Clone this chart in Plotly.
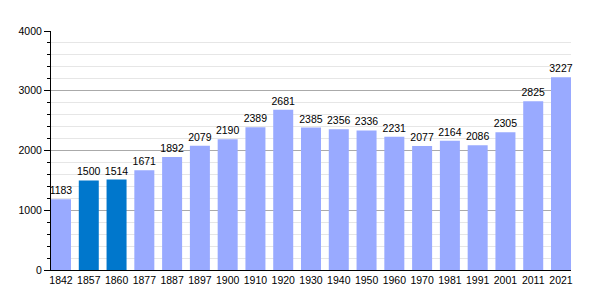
import plotly.graph_objects as go

years = ["1842", "1857", "1860", "1877", "1887", "1897", "1900", "1910", "1920", "1930",
         "1940", "1950", "1960", "1970", "1981", "1991", "2001", "2011", "2021"]
population = [1183, 1500, 1514, 1671, 1892, 2079, 2190, 2389, 2681, 2385,
              2356, 2336, 2231, 2077, 2164, 2086, 2305, 2825, 3227]
highlight = ["1857", "1860"]

light = "#99AAFF"
dark = "#0077CC"
colors = [dark if y in highlight else light for y in years]

gap = 0.28
n = len(years)

fig = go.Figure()
fig.add_trace(go.Bar(
    x=years, y=population, marker_color=colors, marker_line_width=0,
    text=[str(v) for v in population], textposition="outside",
    textfont=dict(family="Liberation Sans, Arial", size=10.5, color="black"),
    cliponaxis=False,
))

fig.update_layout(
    width=600, height=300,
    margin=dict(l=51, r=29, t=31, b=30),
    plot_bgcolor="white", paper_bgcolor="white",
    bargap=gap, showlegend=False,
    font=dict(family="Liberation Sans, Arial", size=10.5, color="black"),
    uniformtext=dict(minsize=10, mode="show"),
)
fig.update_xaxes(
    type="category", range=[-0.5 + gap / 2, n - 0.5 - gap / 2],
    showline=True, linecolor="black", linewidth=1,
    ticks="", showgrid=False,
)
fig.update_yaxes(
    range=[0, 4000], tickvals=[0, 1000, 2000, 3000, 4000],
    showline=True, linecolor="black", linewidth=1,
    ticks="outside", ticklen=6, tickcolor="black",
    showgrid=True, gridcolor="#AAAAAA", gridwidth=1,
    minor=dict(dtick=200, showgrid=True, gridcolor="#E6E6E6", ticks="outside",
               ticklen=3, tickcolor="black"),
    zeroline=False,
)

fig.write_html("out.html")
